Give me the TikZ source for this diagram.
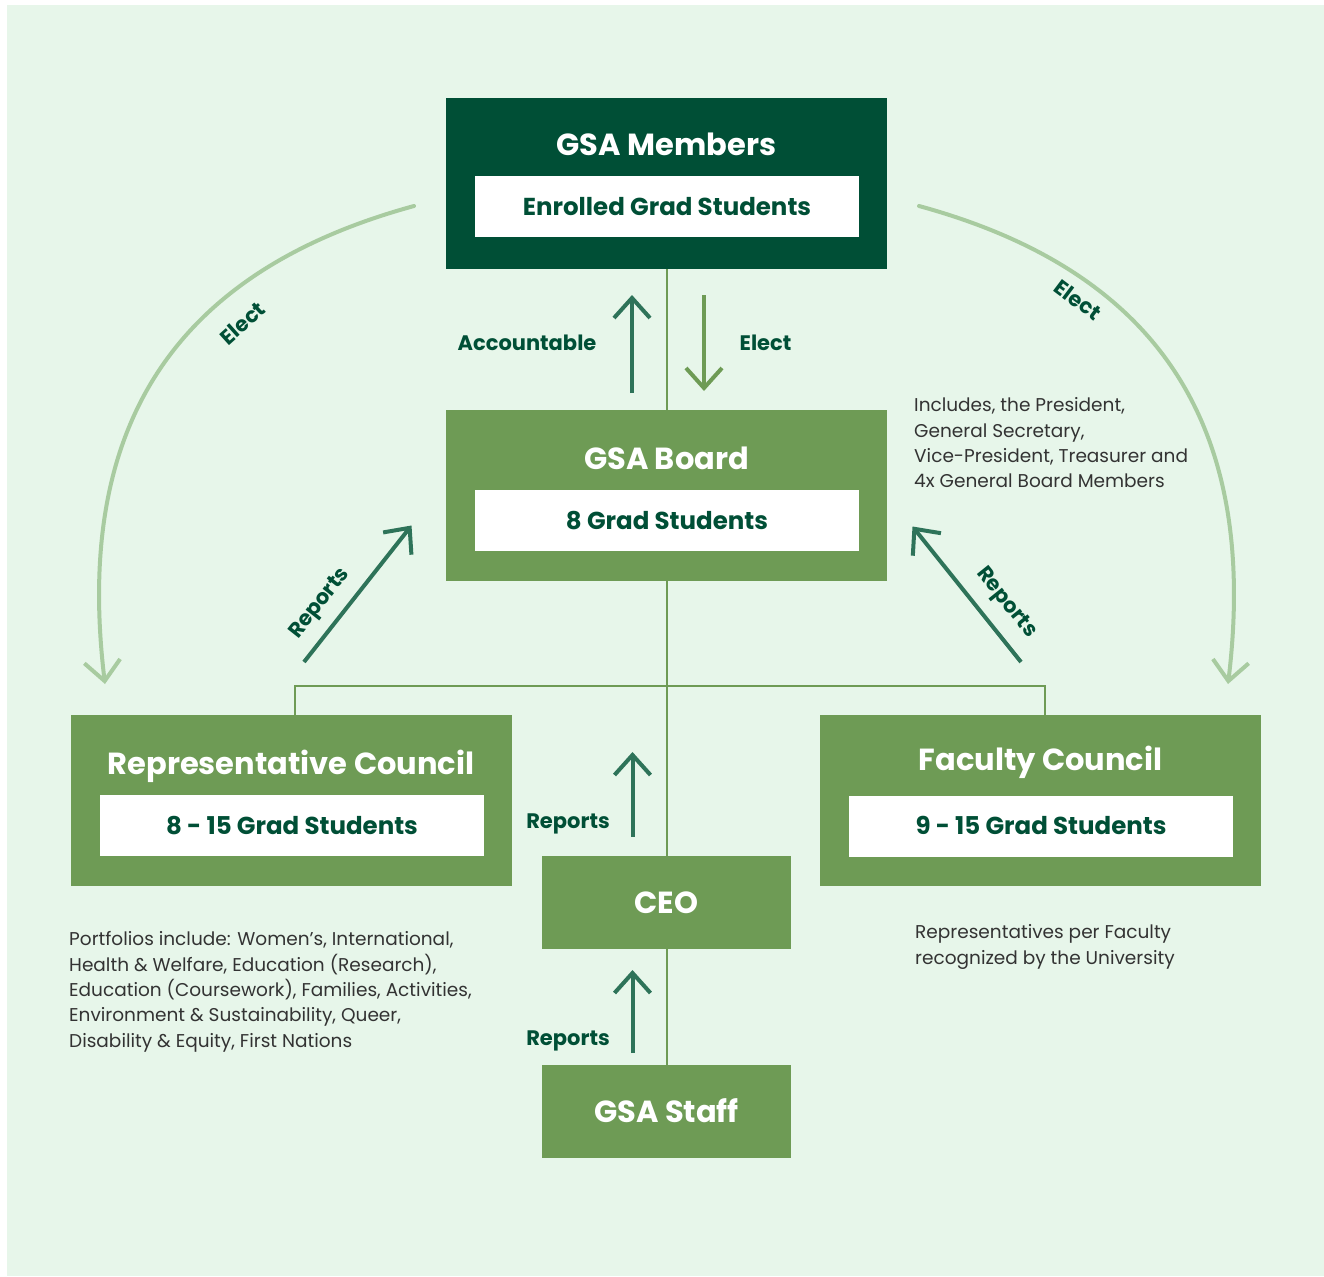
\documentclass[tikz,border=0pt]{standalone}
\usepackage{fontspec}
\setmainfont{Poppins}
\usetikzlibrary{arrows.meta}
\definecolor{bgGreen}{HTML}{E7F6EA}
\definecolor{darkGreen}{HTML}{004F36}
\definecolor{midGreen}{HTML}{6E9B55}
\definecolor{tealGreen}{HTML}{2E7359}
\definecolor{paleGreen}{HTML}{A8CBA0}
\definecolor{bodyGray}{HTML}{333333}
\def\panelW{441pt}
\def\panelH{171pt}
\def\subW{384pt}
\def\subH{61pt}

\begin{document}
\begin{tikzpicture}[x=1pt, y=-1pt,
    panel/.style={
      fill=midGreen, minimum width=\panelW, minimum height=\panelH, inner sep=0pt
    },
    subbox/.style={
      fill=white, minimum width=\subW, minimum height=\subH, inner sep=0pt,
      text=darkGreen, text height=17pt, text depth=0pt,
      font=\bfseries\fontsize{24.5}{26}\selectfont
    },
    smallbox/.style={
      fill=midGreen, minimum width=249pt, minimum height=93pt, inner sep=0pt,
      text=white, text height=21pt, text depth=0pt,
      font=\bfseries\fontsize{30.5}{32}\selectfont
    },
    title/.style={
      text=white, inner sep=0pt, anchor=base, font=\bfseries\fontsize{30.5}{32}\selectfont
    },
    tag/.style={
      text=darkGreen, inner sep=0pt, font=\bfseries\fontsize{21}{23}\selectfont
    },
    note/.style={
      text=bodyGray, inner sep=0pt, anchor=north west, align=left,
      font=\fontsize{18.5}{25.3}\selectfont
    },
    link/.style={draw=midGreen, line width=2pt},
    arrowtip/.style={
      -{Straight Barb[length=20pt,width=36pt]}, line width=4pt
    },
    curved/.style={
      arrowtip, draw=paleGreen, line cap=round
    }
  ]
    \fill[white] (0,0) rectangle (1324,1276);
    \fill[bgGreen] (7,5) rectangle (1324,1276);
    \useasboundingbox (0,0) rectangle (1324,1276);

    % boxes
    \node[panel, fill=darkGreen] (Members) at (666.5,183.5) {};
    \node[subbox] (MembersSub) at (667,206.5) {Enrolled Grad Students};
    \node[title] (MembersTitle) at (666.5,156) {GSA Members};

    \node[panel] (Board) at (666.5,495.5) {};
    \node[subbox] (BoardSub) at (667,520.5) {8 Grad Students};
    \node[title] (BoardTitle) at (666.5,469.5) {GSA Board};

    \node[panel] (RepCouncil) at (291.5,800.5) {};
    \node[subbox] (RepSub) at (292,825.5) {8 - 15 Grad Students};
    \node[title] (RepTitle) at (291,774) {Representative Council};

    \node[panel] (FacCouncil) at (1040.5,800.5) {};
    \node[subbox] (FacSub) at (1041,826) {9 - 15 Grad Students};
    \node[title] (FacTitle) at (1040.5,770.5) {Faculty Council};

    \node[smallbox] (Ceo) at (666.5,902.5) {CEO};
    \node[smallbox] (Staff) at (666.5,1111.5) {GSA Staff};

    % tree lines
    \coordinate (Fork) at (666.5,686);
    \draw[link] (Members.south) -- (Board.north);
    \draw[link] (Board.south) -- (Ceo.north);
    \draw[link] (Ceo.south) -- (Staff.north);
    \draw[link] ([xshift=3.5pt]RepCouncil.north) |- (Fork) -| ([xshift=4.5pt]FacCouncil.north);

    % straight arrows
    \coordinate (AccFrom) at (632,393);
    \coordinate (AccTo) at (632,295);
    \coordinate (ElectFrom) at (704,295);
    \coordinate (ElectTo) at (704,391);
    \coordinate (RepFrom) at (304,662);
    \coordinate (RepTo) at (411.5,525.5);
    \coordinate (FacFrom) at (1021,662);
    \coordinate (FacTo) at (912.5,526.5);
    \coordinate (CeoFrom) at (632.5,836.5);
    \coordinate (CeoTo) at (632.5,752);
    \coordinate (StaffFrom) at (632.5,1053);
    \coordinate (StaffTo) at (632.5,970);

    \draw[arrowtip, tealGreen] (AccFrom) -- (AccTo);
    \draw[arrowtip, midGreen] (ElectFrom) -- (ElectTo);
    \draw[arrowtip, tealGreen] (RepFrom) -- (RepTo);
    \draw[arrowtip, tealGreen] (FacFrom) -- (FacTo);
    \draw[arrowtip, tealGreen] (CeoFrom) -- (CeoTo);
    \draw[arrowtip, tealGreen] (StaffFrom) -- (StaffTo);

    % elect curves
    \coordinate (CurveLA) at (414,206);
    \coordinate (CurveLB) at (105,684);
    \coordinate (CurveRA) at (919,206);
    \coordinate (CurveRB) at (1228,684);
    \draw[curved] (CurveLA) .. controls +(-234,64) and +(-32,-264) .. (CurveLB);
    \draw[curved] (CurveRA) .. controls +(234,64) and +(32,-264) .. (CurveRB);

    % labels
    \node[tag, anchor=base] (AccLabel) at (527,350) {Accountable};
    \node[tag, anchor=base] (ElectLabel) at (765.5,350) {Elect};
    \node[tag, anchor=base] (CeoLabel) at (568,828) {Reports};
    \node[tag, anchor=base] (StaffLabel) at (568,1045) {Reports};
    \node[tag, rotate=51.7] (RepLabel) at (320.5,604) {Reports};
    \node[tag, rotate=-51.3] (FacLabel) at (1006,603) {Reports};
    \node[tag, rotate=42] (CurveLLabel) at (242.5,323) {Elect};
    \node[tag, rotate=-37] (CurveRLabel) at (1078,300) {Elect};

    % notes
    \node[note] (BoardNote) at (914,397.5) {Includes, the President,\\General Secretary,\\Vice-President, Treasurer and\\4x General Board Members};
    \node[note] (RepNote) at (69,931.5) {Portfolios include: Women’s, International,\\Health \& Welfare, Education (Research),\\Education (Coursework), Families, Activities,\\Environment \& Sustainability, Queer,\\Disability \& Equity, First Nations};
    \node[note] (FacNote) at (915,924.5) {Representatives per Faculty\\recognized by the University};
  \end{tikzpicture}
\end{document}
